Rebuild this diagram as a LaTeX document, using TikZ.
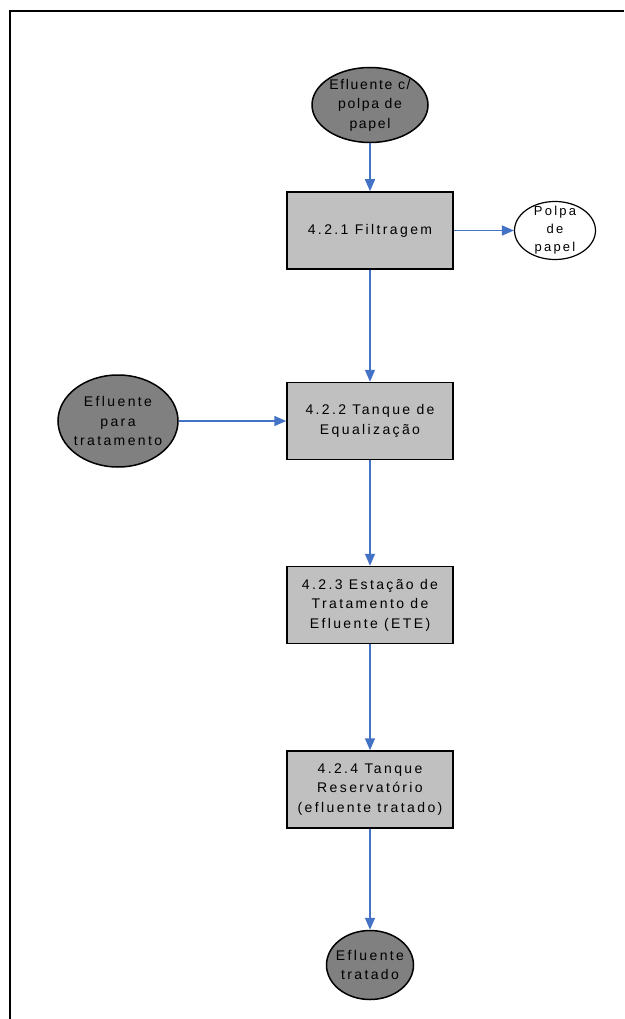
\documentclass[tikz,border=0pt]{standalone}
\usepackage{fontspec}
\setmainfont{Liberation Sans}[LetterSpace=17]
\usetikzlibrary{shapes.geometric,arrows.meta}
\definecolor{flowblue}{RGB}{68,114,196}
\definecolor{boxgray}{RGB}{192,192,192}
\definecolor{ovalgray}{RGB}{128,128,128}
\tikzset{
  stagebox/.style={draw=black,line width=1.5pt,fill=boxgray,minimum width=166pt,minimum height=77pt,inner sep=0pt},
  darkoval/.style={ellipse,draw=black,line width=1.5pt,fill=ovalgray,inner sep=0pt},
  lightoval/.style={ellipse,draw=black,line width=1.2pt,fill=white,inner sep=0pt},
  lbl/.style={align=center,inner sep=0pt,font=\fontsize{14}{19.5}\selectfont},
  flow/.style={draw=flowblue,line width=1.5pt,-{Triangle[length=12pt,width=10pt]}}
}
\begin{document}
\begin{tikzpicture}[x=1pt,y=1pt,yscale=-1,xscale=1]
\useasboundingbox (0,0) rectangle (624,1019);
% frame
\draw [line width=1.5pt] (10,1019) -- (10,11) -- (624,11);
% ovals
\node [darkoval,minimum width=116pt,minimum height=75pt] (src) at (370,105) {};
\node [lbl,font=\fontsize{14}{19.5}\addfontfeature{LetterSpace=12}] (srctxt) at (src) {Efluente c/\\polpa de\\papel};
\node [lightoval,minimum width=81pt,minimum height=58pt] (pulp) at (555,230.5) {};
\node [lbl,font=\fontsize{13}{18}\selectfont] (pulptxt) at (pulp) {Polpa\\de\\papel};
\node [darkoval,minimum width=120pt,minimum height=92pt] (raw) at (118,421) {};
\node [lbl] (rawtxt) at (raw) {Efluente\\para\\tratamento};
\node [darkoval,minimum width=87pt,minimum height=69pt] (out) at (370,965) {};
\node [lbl] (outtxt) at (out) {Efluente\\tratado};
% stages
\node [stagebox] (filt) at (370,230.5) {};
\node [lbl] (filttxt) at (filt) {4.2.1 Filtragem};
\node [stagebox] (equal) at (370,421) {};
\node [lbl] (equaltxt) at (equal) {4.2.2 Tanque de\\Equalização};
\node [stagebox] (ete) at (370,605) {};
\node [lbl] (etetxt) at (ete) {4.2.3 Estação de\\Tratamento de\\Efluente (ETE)};
\node [stagebox] (resv) at (370,789.5) {};
\node [lbl] (resvtxt) at (resv) {4.2.4 Tanque\\Reservatório\\(efluente tratado)};
% connectors
\draw [flow] (src) -- (filt);
\draw [flow] (filt) -- (pulp);
\draw [flow] (filt) -- (equal);
\draw [flow] (raw) -- (equal);
\draw [flow] (equal) -- (ete);
\draw [flow] (ete) -- (resv);
\draw [flow] (resv) -- (out);
\end{tikzpicture}
\end{document}
